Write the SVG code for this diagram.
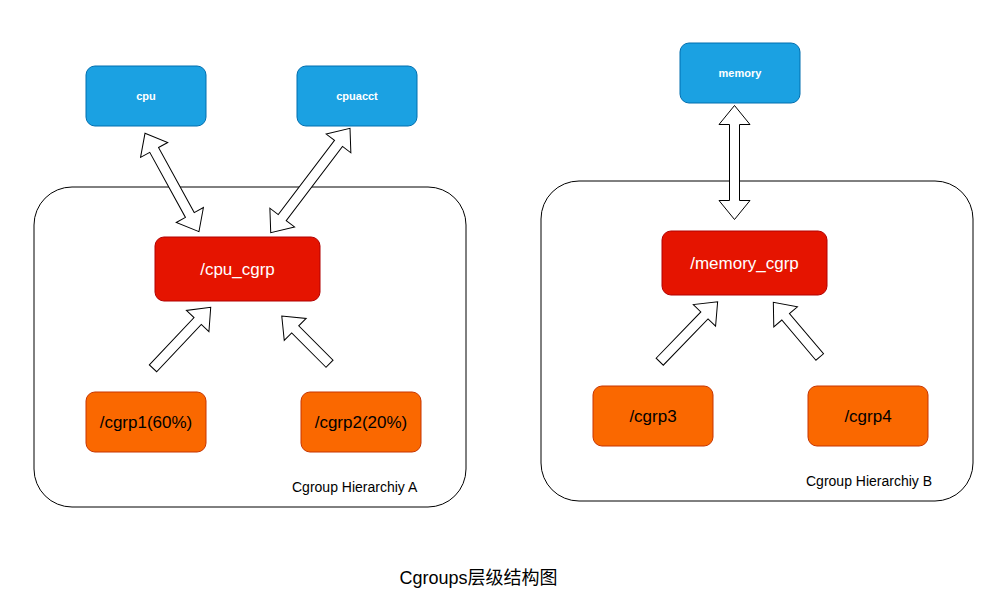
<svg xmlns="http://www.w3.org/2000/svg" width="997" height="592" viewBox="0 0 997 592">
<style>
.cont{fill:#fff;stroke:#000;stroke-width:1}
.blue{fill:#1ba1e2;stroke:#006eaf;stroke-width:1}
.red{fill:#e51400;stroke:#b20000;stroke-width:1}
.orange{fill:#fa6800;stroke:#c73500;stroke-width:1}
.arr{fill:#fff;stroke:#000;stroke-width:1;stroke-linejoin:miter}
text{font-family:"Liberation Sans",Arial,sans-serif;text-anchor:middle}
.tb{font-size:11px;font-weight:bold;fill:#fff}
.tr{font-size:17px;fill:#fff}
.to{font-size:17px;fill:#000}
.tl{font-size:14px;fill:#000;text-anchor:start}
.tt{font-family:"Liberation Sans","Noto Sans CJK SC",sans-serif;font-size:18px;fill:#000}
</style>
<rect width="997" height="592" fill="#fff"/>
<g id="hierarchyA">
<rect class="cont" x="34" y="187" width="432" height="320" rx="38"/>
<text class="tl" x="292" y="492">Cgroup Hierarchiy A</text>
</g>
<g id="hierarchyB">
<rect class="cont" x="541" y="181" width="432" height="320" rx="38"/>
<text class="tl" x="806" y="486">Cgroup Hierarchiy B</text>
</g>
<g id="cpu"><rect class="blue" x="86" y="66" width="120" height="60" rx="9"/><text class="tb" x="146" y="100">cpu</text></g>
<g id="cpuacct"><rect class="blue" x="297" y="66" width="120" height="60" rx="9"/><text class="tb" x="357" y="100">cpuacct</text></g>
<g id="memory"><rect class="blue" x="680" y="43" width="120" height="60" rx="9"/><text class="tb" x="740" y="77">memory</text></g>
<g id="cpu_cgrp"><rect class="red" x="155" y="237" width="165" height="64" rx="9"/><text class="tr" x="237.5" y="275">/cpu_cgrp</text></g>
<g id="memory_cgrp"><rect class="red" x="662" y="231" width="165" height="64" rx="9"/><text class="tr" x="744.5" y="269">/memory_cgrp</text></g>
<g id="cgrp1"><rect class="orange" x="86" y="392" width="120" height="60" rx="9"/><text class="to" x="146" y="428">/cgrp1(60%)</text></g>
<g id="cgrp2"><rect class="orange" x="301" y="392" width="120" height="60" rx="9"/><text class="to" x="361" y="428">/cgrp2(20%)</text></g>
<g id="cgrp3"><rect class="orange" x="593" y="386" width="120" height="60" rx="9"/><text class="to" x="653" y="422">/cgrp3</text></g>
<g id="cgrp4"><rect class="orange" x="808" y="386" width="120" height="60" rx="9"/><text class="to" x="868" y="422">/cgrp4</text></g>
<g id="connectors">
<polygon class="arr" transform="translate(145,133.3) rotate(61.25)" points="0,0 19,-15.5 19,-5 93.2,-5 93.2,-15.5 112.2,0 93.2,15.5 93.2,5 19,5 19,15.5"/>
<polygon class="arr" transform="translate(350,128.3) rotate(127.2)" points="0,0 19,-15.5 19,-5 112.1,-5 112.1,-15.5 131.1,0 112.1,15.5 112.1,5 19,5 19,15.5"/>
<polygon class="arr" transform="translate(734.5,105.5) rotate(90)" points="0,0 19,-15.5 19,-5 95,-5 95,-15.5 114,0 95,15.5 95,5 19,5 19,15.5"/>
<polygon class="arr" transform="translate(153,368.3) rotate(-46.6)" points="0,-5 65,-5 65,-15.5 84,0 65,15.5 65,5 0,5"/>
<polygon class="arr" transform="translate(329.5,363.7) rotate(-135)" points="0,-5 48.5,-5 48.5,-15.5 67.5,0 48.5,15.5 48.5,5 0,5"/>
<polygon class="arr" transform="translate(659.7,361.7) rotate(-46)" points="0,-5 64.4,-5 64.4,-15.5 83.4,0 64.4,15.5 64.4,5 0,5"/>
<polygon class="arr" transform="translate(819.7,357) rotate(-130.3)" points="0,-5 52.7,-5 52.7,-15.5 71.7,0 52.7,15.5 52.7,5 0,5"/>
</g>
<text class="tt" x="478.5" y="584">Cgroups层级结构图</text>
</svg>
